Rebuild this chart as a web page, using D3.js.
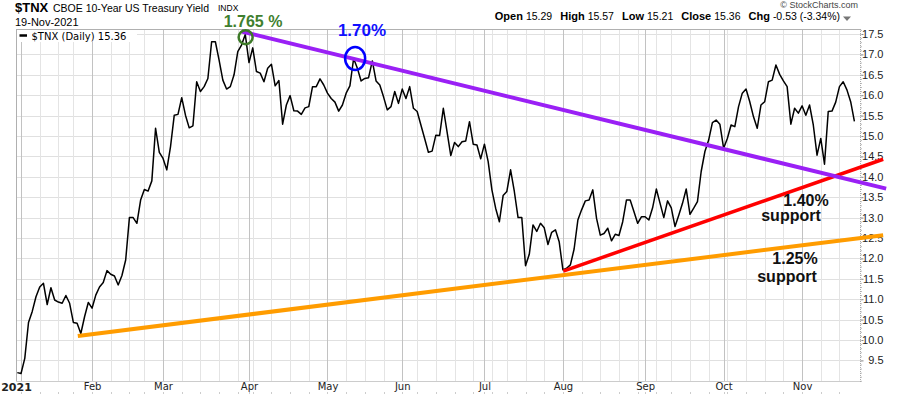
<!DOCTYPE html>
<html lang="en">
<head>
<meta charset="UTF-8" />
<title>$TNX CBOE 10-Year US Treasury Yield</title>
<script src="https://d3js.org/d3.v7.min.js"></script>
<style>
  body { margin: 0; background: #fff; }
  svg { display: block; font-family: "Liberation Sans", Arial, sans-serif; }
</style>
</head>
<body>
<div id="chart"></div>
<script>
// daily closes of $TNX, Dec 31 2020 .. Nov 19 2021 (yield x 10)
const values = [
  9.20, 9.18, 9.55, 10.43, 10.70, 11.06, 11.30, 11.39, 10.87, 11.28,
  10.98, 10.93, 10.90, 11.09, 10.90, 10.43, 10.41, 10.16, 10.57, 10.92,
  10.78, 11.10, 11.30, 11.41, 11.70, 11.61, 11.57, 11.35, 11.58, 11.96,
  13.00, 13.00, 12.86, 13.43, 13.69, 13.65, 13.90, 15.19, 14.60, 14.45,
  14.17, 14.74, 15.51, 15.53, 15.94, 15.51, 15.20, 15.25, 16.33, 16.09,
  16.21, 16.41, 17.31, 17.31, 16.86, 16.37, 16.15, 16.21, 16.50, 17.07,
  17.23, 17.49, 16.80, 17.16, 16.58, 16.54, 16.33, 16.66, 16.76, 16.23,
  16.36, 15.29, 15.76, 15.99, 15.62, 15.61, 15.53, 15.69, 15.72, 16.21,
  16.21, 16.40, 16.25, 16.05, 15.92, 15.83, 15.61, 15.76, 16.05, 16.23,
  16.90, 16.66, 16.35, 16.41, 16.43, 16.84, 16.35, 16.25, 15.96, 15.64,
  15.72, 16.09, 15.80, 16.15, 15.92, 16.21, 15.68, 15.60, 15.27, 14.94,
  14.60, 14.63, 15.02, 15.01, 15.68, 15.10, 14.52, 14.84, 14.74, 14.86,
  14.88, 15.35, 14.80, 14.78, 14.44, 14.80, 14.37, 13.68, 13.23, 12.90,
  13.54, 13.64, 14.17, 13.64, 13.00, 13.00, 11.82, 12.10, 12.82, 12.66,
  12.86, 12.75, 12.34, 12.64, 12.70, 12.41, 11.72, 11.76, 11.84, 12.23,
  12.94, 13.19, 13.41, 13.43, 13.68, 12.98, 12.57, 12.61, 12.74, 12.43,
  12.59, 12.56, 12.90, 13.43, 13.43, 13.15, 12.86, 13.02, 13.02, 12.94,
  13.24, 13.70, 13.35, 13.00, 13.41, 13.24, 12.78, 13.06, 13.35, 13.70,
  13.08, 13.23, 13.39, 14.13, 14.62, 14.90, 15.33, 15.39, 15.29, 14.70,
  14.94, 15.27, 15.23, 15.72, 16.05, 16.15, 15.84, 15.47, 15.19, 15.76,
  15.84, 16.33, 16.37, 16.74, 16.51, 16.35, 16.21, 15.29, 15.68, 15.56,
  15.74, 15.51, 15.76, 15.27, 14.53, 14.94, 14.31, 15.60, 15.61, 15.83,
  16.21, 16.33, 16.13, 15.84, 15.36
];

const firstDay = "2020-12-31";
const holidays = ["2021-01-01", "2021-01-18", "2021-02-15", "2021-04-02",
                  "2021-05-31", "2021-07-05", "2021-09-06"];
const monthLabels = ["2021", "Feb", "Mar", "Apr", "May", "Jun", "Jul", "Aug", "Sep", "Oct", "Nov"];
const yTicks = [9.5, 10.0, 10.5, 11.0, 11.5, 12.0, 12.5, 13.0, 13.5, 14.0, 14.5, 15.0, 15.5, 16.0, 16.5, 17.0, 17.5];

// hand drawn trend lines: [bar index, value]
const resistance = [[60.05, 17.56], [232.5, 13.71]];
const support140 = [[146.1, 11.69], [231.7, 14.43]];
const support125 = [[16.2, 10.10], [231.7, 12.57]];
// circled peaks: [bar index, value]
const peakMarch = [61.1, 17.42];
const peakMay = [90.4, 16.90];

const quote = [["Open", "15.29"], ["High", "15.57"], ["Low", "15.21"], ["Close", "15.36"], ["Chg", "-0.53 (-3.34%)"]];

// trading calendar
const fmt = d3.timeFormat("%Y-%m-%d");
const days = [];
let d = d3.timeParse("%Y-%m-%d")(firstDay);
while (days.length < values.length) {
  const wd = d.getDay();
  if (wd !== 0 && wd !== 6 && !holidays.includes(fmt(d))) days.push(d);
  d = d3.timeDay.offset(d, 1);
}
const monthStarts = [], weekStarts = [];
days.forEach((day, i) => {
  if (i === 0) return;
  if (day.getMonth() !== days[i - 1].getMonth()) monthStarts.push(i);
  else if (+d3.timeMonday.floor(day) !== +d3.timeMonday.floor(days[i - 1])) weekStarts.push(i);
});

const W = 900, H = 396;
const plot = { left: 16.5, right: 860, top: 29, bottom: 381 };

const svg = d3.select("#chart").append("svg")
  .attr("width", W).attr("height", H);
svg.append("rect").attr("width", W).attr("height", H).attr("fill", "#fff");

const x = d3.scaleLinear().domain([0, values.length - 1]).range([17.3, 854.4]);
const y = d3.scaleLinear().domain([9.5, 17.5]).range([360.4, 34]);
const px = v => Math.round(v) + 0.5;

// grid
const grid = svg.append("g");
grid.selectAll(".hg").data(yTicks).enter().append("line")
  .attr("x1", plot.left).attr("x2", plot.right)
  .attr("y1", v => px(y(v))).attr("y2", v => px(y(v)))
  .attr("stroke", "#e0e0e0");
grid.selectAll(".wg").data(weekStarts).enter().append("line")
  .attr("x1", i => px(x(i))).attr("x2", i => px(x(i)))
  .attr("y1", plot.top).attr("y2", plot.bottom)
  .attr("stroke", "#e4e4e4");
grid.selectAll(".mg").data(monthStarts).enter().append("line")
  .attr("x1", i => px(x(i))).attr("x2", i => px(x(i)))
  .attr("y1", plot.top).attr("y2", plot.bottom)
  .attr("stroke", "#c2c2c2");

// frame
svg.append("line").attr("x1", plot.left).attr("x2", plot.right)
  .attr("y1", plot.top + 0.5).attr("y2", plot.top + 0.5).attr("stroke", "#b0b0b0");
svg.append("line").attr("x1", plot.left).attr("x2", plot.left)
  .attr("y1", plot.top).attr("y2", plot.bottom).attr("stroke", "#b0b0b0");

// right axis
const yAxis = svg.append("g").attr("transform", `translate(${plot.right + 0.5},0)`)
  .call(d3.axisRight(y).tickValues(yTicks).tickSize(3).tickFormat(d3.format(".1f")));
yAxis.select(".domain").remove();
yAxis.selectAll(".tick line").attr("stroke", "#888");
yAxis.selectAll("text").attr("x", 23).attr("text-anchor", "end")
  .attr("fill", "#222").style("font-size", "11px")
  .style("font-family", "'Liberation Sans', Arial, sans-serif");
const yMinor = svg.append("g").attr("transform", `translate(${plot.right + 0.5},0)`)
  .call(d3.axisRight(y).tickValues(d3.range(9.0, 17.61, 0.1)).tickSize(1.5).tickFormat(""));
yMinor.select(".domain").remove();
yMinor.selectAll(".tick line").attr("stroke", "#bbb");
svg.append("line").attr("x1", plot.right + 0.5).attr("x2", plot.right + 0.5)
  .attr("y1", plot.top).attr("y2", plot.bottom + 2)
  .attr("stroke", "#aaa").attr("stroke-dasharray", "1,1");

// bottom axis
svg.append("line").attr("x1", plot.left).attr("x2", plot.right)
  .attr("y1", plot.bottom + 0.5).attr("y2", plot.bottom + 0.5)
  .attr("stroke", "#999").attr("stroke-dasharray", "1,1");
const xAxis = svg.append("g").attr("transform", `translate(0,${plot.bottom})`)
  .call(d3.axisBottom(x).tickValues(monthStarts).tickSize(0).tickPadding(2)
    .tickFormat((i, k) => monthLabels[k]));
xAxis.select(".domain").remove();
xAxis.selectAll("text").attr("fill", "#222")
  .style("font-family", "'DejaVu Sans', Verdana, sans-serif").style("font-size", "10px");
xAxis.selectAll(".tick").filter((i, k) => k === 0)
  .attr("transform", `translate(${plot.left},0)`)
  .select("text").style("font-weight", "bold").style("font-size", "11px");
svg.append("g").selectAll("line").data(weekStarts.concat(monthStarts)).enter().append("line")
  .attr("x1", i => px(x(i))).attr("x2", i => px(x(i)))
  .attr("y1", 392).attr("y2", 394).attr("stroke", "#ccc");

// price line
svg.append("path").datum(values)
  .attr("fill", "none").attr("stroke", "#000").attr("stroke-width", 1.5)
  .attr("stroke-linejoin", "round")
  .attr("d", d3.line().x((v, i) => x(i)).y(v => y(v)));

// trend lines
const seg = d3.line().x(p => x(p[0])).y(p => y(p[1]));
svg.append("path").datum(support125).attr("d", seg)
  .attr("stroke", "#ff9c00").attr("stroke-width", 4).attr("fill", "none");
svg.append("path").datum(support140).attr("d", seg)
  .attr("stroke", "#ff0000").attr("stroke-width", 3.5).attr("fill", "none");
svg.append("path").datum(resistance).attr("d", seg)
  .attr("stroke", "#9a20f5").attr("stroke-width", 4).attr("fill", "none");

// circled peaks
svg.append("circle").attr("cx", x(peakMarch[0])).attr("cy", y(peakMarch[1])).attr("r", 7)
  .attr("fill", "none").attr("stroke", "#3d7a28").attr("stroke-width", 2.5);
svg.append("ellipse").attr("cx", x(peakMay[0])).attr("cy", y(peakMay[1])).attr("rx", 10).attr("ry", 11.5)
  .attr("fill", "none").attr("stroke", "#0000ff").attr("stroke-width", 2.5);

// annotations
const note = (t, cx, by, color, size) => svg.append("text")
  .attr("x", cx).attr("y", by).attr("text-anchor", "middle")
  .attr("fill", color).style("font-weight", "bold").style("font-size", size + "px").text(t);
note("1.765 %", 253, 27, "#3f7f2f", 16);
note("1.70%", 362, 36, "#1010ff", 17);
note("1.40%", 806, 206, "#111", 16);
note("support", 791, 221, "#111", 16);
note("1.25%", 795, 264, "#111", 16);
note("support", 787, 282, "#111", 16);

// legend
svg.append("rect").attr("x", 17).attr("y", 30).attr("width", 120).attr("height", 12).attr("fill", "#fff");
svg.append("line").attr("x1", 19.5).attr("x2", 27).attr("y1", 35.5).attr("y2", 35.5)
  .attr("stroke", "#000").attr("stroke-width", 2.5);
svg.append("text").attr("x", 31.5).attr("y", 39.5)
  .style("font-family", "'DejaVu Sans', Verdana, sans-serif").style("font-size", "10px")
  .text("$TNX (Daily) 15.36");

// header
svg.append("text").attr("x", 15).attr("y", 12)
  .style("font-weight", "bold").style("font-size", "13px").text("$TNX");
svg.append("text").attr("x", 53).attr("y", 12).style("font-size", "10.5px")
  .text("CBOE 10-Year US Treasury Yield");
svg.append("text").attr("x", 218).attr("y", 11).style("font-size", "8.5px").text("INDX");
svg.append("text").attr("x", 15).attr("y", 26).style("font-size", "11px").text("19-Nov-2021");

const q = svg.append("text").attr("x", 840).attr("y", 20).attr("text-anchor", "end");
quote.forEach(([k, v], n) => {
  q.append("tspan").attr("dx", n ? 8 : 0).style("font-weight", "bold").style("font-size", "11px").text(k);
  q.append("tspan").attr("dx", 3).style("font-size", "10.5px").text(v);
});
svg.append("path").attr("d", "M843,16.5 L851,16.5 L847,21 Z").attr("fill", "#777");
svg.append("text").attr("x", 858).attr("y", 8).attr("text-anchor", "end")
  .attr("fill", "#444").style("font-size", "9px").text("© StockCharts.com");
</script>
</body>
</html>
